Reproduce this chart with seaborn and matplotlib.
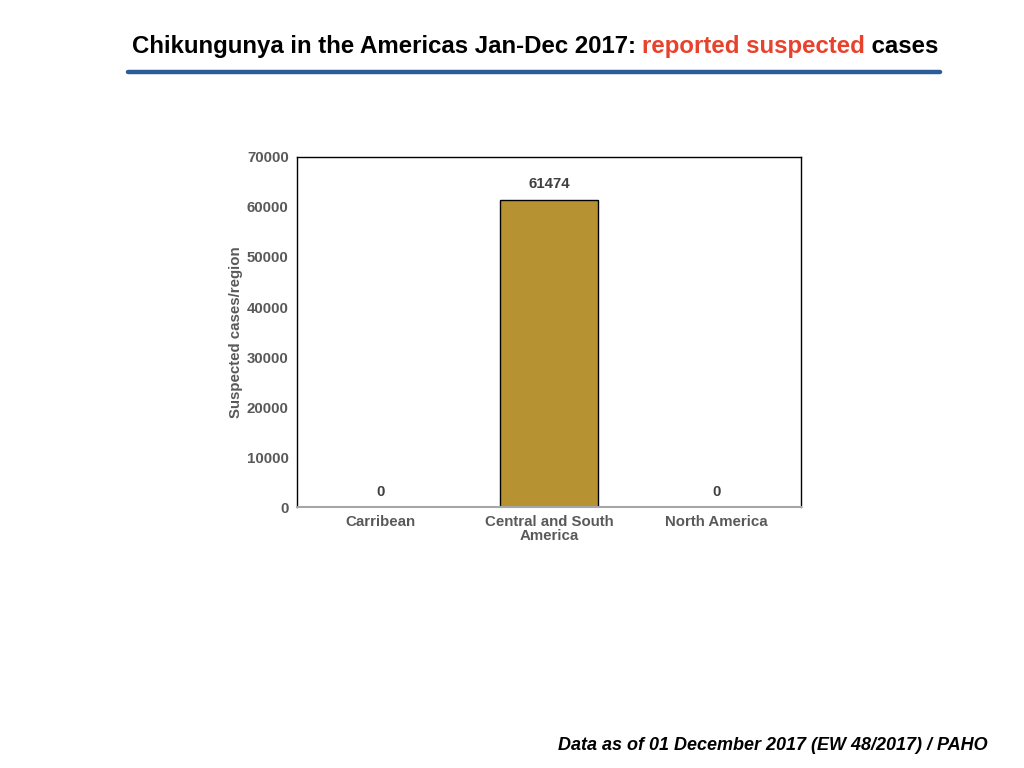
import matplotlib
matplotlib.use("Agg")
import matplotlib.pyplot as plt
import pandas as pd
import seaborn as sns

# ==========================================
# DATOS
# ==========================================

regions = ["Carribean", "Central and South\nAmerica", "North America"]
cases = [0, 61474, 0]

BAR_COLOR = "#B79232"
TEXT_GRAY = "#595959"
TITLE_RED = "#E8412C"
RULE_BLUE = "#2C5B9A"

sns.set_theme(style="white")
plt.rcParams["font.family"] = ["Liberation Sans", "DejaVu Sans"]

df = pd.DataFrame({"region": regions, "cases": cases})

# ==========================================
# FIGURA
# ==========================================

fig = plt.figure(figsize=(10.24, 7.68), dpi=100)
ax = fig.add_axes([0.290, 0.3398, 0.492, 0.4558])

sns.barplot(
    data=df,
    x="region",
    y="cases",
    color=BAR_COLOR,
    width=0.58,
    edgecolor="black",
    linewidth=1.0,
    saturation=1,
    ax=ax,
)

ax.set_xlim(-0.5, len(regions) - 0.5)
ax.set_ylim(0, 70000)
ax.set_yticks(range(0, 70001, 10000))
ax.tick_params(axis="both", length=0, labelsize=10.8, colors=TEXT_GRAY, pad=6)
for lab in ax.get_xticklabels() + ax.get_yticklabels():
    lab.set_fontweight("bold")
for lab in ax.get_xticklabels():
    lab.set_linespacing(0.95)

ax.set_xlabel("")
ax.set_ylabel("Suspected cases/region", fontsize=10.8, fontweight="bold",
              color=TEXT_GRAY, labelpad=3)

for side in ["top", "right", "left"]:
    ax.spines[side].set_color("black")
    ax.spines[side].set_linewidth(1.0)
ax.spines["bottom"].set_color("#A6A6A6")
ax.spines["bottom"].set_linewidth(1.5)

for i, v in enumerate(cases):
    ax.annotate(f"{v}", (i, v), xytext=(0, 6), textcoords="offset points",
                ha="center", va="bottom", fontsize=10.8, fontweight="bold",
                color="#404040")

# ==========================================
# TITULO
# ==========================================

parts = [
    ("Chikungunya in the Americas Jan-Dec 2017: ", "black"),
    ("reported suspected", TITLE_RED),
    (" cases", "black"),
]
renderer = fig.canvas.get_renderer()
texts = []
for s, c in parts:
    t = fig.text(0, 0, s, fontsize=17.3, fontweight="bold", color=c,
                 va="baseline", ha="left")
    texts.append(t)
widths = [t.get_window_extent(renderer).width for t in texts]
total = sum(widths)
x0 = 535 - total / 2
for t, w in zip(texts, widths):
    t.set_position((x0 / 1024, 1 - 53 / 768))
    x0 += w

fig.add_artist(plt.Line2D([128 / 1024, 940 / 1024], [1 - 72 / 768, 1 - 72 / 768],
                          color=RULE_BLUE, linewidth=3.2))

fig.text(988 / 1024, 1 - 750 / 768,
         "Data as of 01 December 2017 (EW 48/2017) / PAHO",
         ha="right", va="baseline", fontsize=13, fontweight="bold",
         fontstyle="italic", color="black")

fig.savefig("out.png", dpi=100)
plt.close(fig)
